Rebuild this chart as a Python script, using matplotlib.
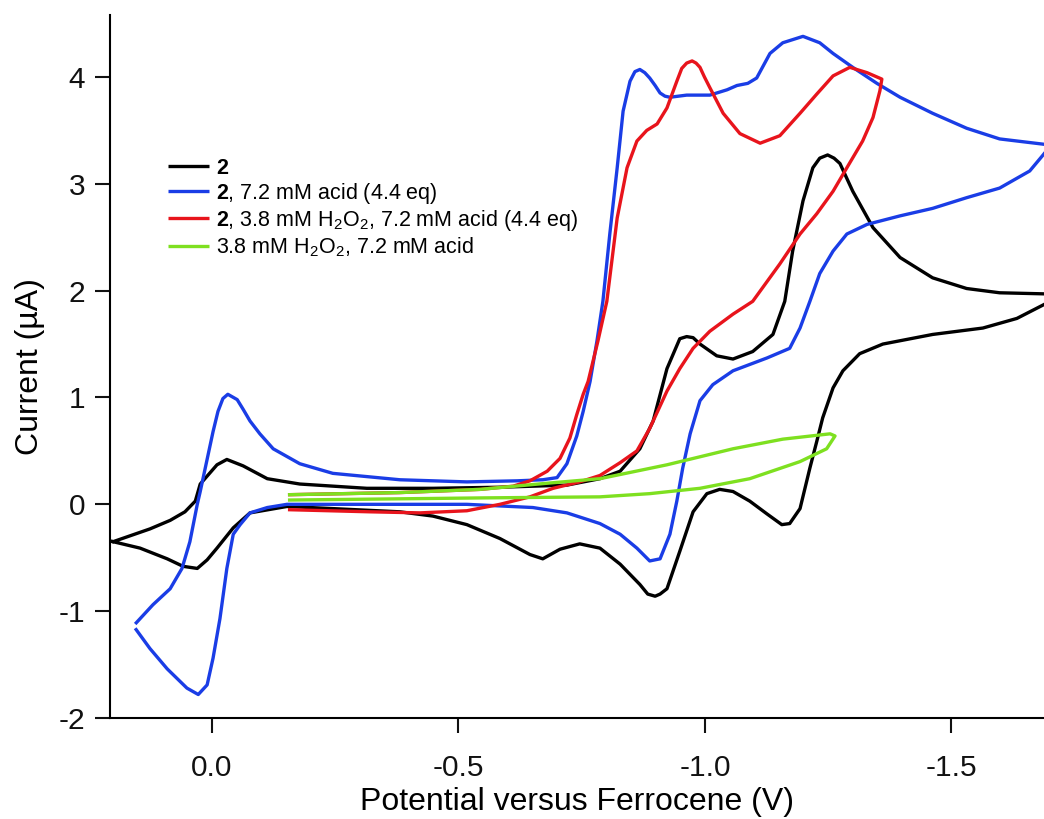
"""Cyclic voltammograms of 2 with acid and H2O2, potential vs ferrocene."""

import matplotlib
matplotlib.use("Agg")
import matplotlib.pyplot as plt

plt.rcParams["font.family"] = ["Liberation Sans", "DejaVu Sans"]
plt.rcParams["mathtext.fontset"] = "custom"
plt.rcParams["mathtext.rm"] = "Liberation Sans"
plt.rcParams["mathtext.bf"] = "Liberation Sans:bold"
plt.rcParams["axes.unicode_minus"] = False

# --- data: potential (V vs Fc) and current (uA), in scan order ---
BLACK_V = [0.205, 0.201, 0.126, 0.085, 0.055, 0.034, 0.024, -0.010, -0.030,
           -0.063, -0.112, -0.178, -0.314, -0.448, -0.584, -0.720, -0.787,
           -0.828, -0.868, -0.895, -0.923, -0.949, -0.963, -0.976, -0.990,
           -1.024, -1.057, -1.097, -1.138, -1.162, -1.178, -1.199, -1.219,
           -1.233, -1.249, -1.262, -1.274, -1.300, -1.341, -1.396, -1.462,
           -1.531, -1.598, -1.688, -1.720,
           -1.688, -1.633, -1.564, -1.462, -1.361, -1.314, -1.280, -1.260,
           -1.239, -1.227, -1.213, -1.193, -1.172, -1.156, -1.126, -1.091,
           -1.057, -1.030, -1.004, -0.976, -0.949, -0.923, -0.909, -0.899,
           -0.884, -0.868, -0.828, -0.787, -0.746, -0.706, -0.671, -0.645,
           -0.584, -0.517, -0.448, -0.381, -0.245, -0.152, -0.077, -0.043,
           -0.010, 0.010, 0.030, 0.059, 0.091, 0.146, 0.205]
BLACK_I = [-0.345, -0.35, -0.23, -0.15, -0.07, 0.03, 0.19, 0.37, 0.42,
           0.36, 0.24, 0.19, 0.15, 0.15, 0.16, 0.18, 0.24,
           0.31, 0.52, 0.78, 1.27, 1.55, 1.57, 1.56, 1.50,
           1.39, 1.36, 1.43, 1.59, 1.90, 2.37, 2.84, 3.15,
           3.24, 3.27, 3.24, 3.19, 2.93, 2.59, 2.31, 2.12,
           2.02, 1.98, 1.97, 1.95,
           1.87, 1.74, 1.65, 1.59, 1.50, 1.41, 1.25, 1.09,
           0.81, 0.59, 0.34, -0.04, -0.18, -0.19, -0.09, 0.03,
           0.12, 0.14, 0.10, -0.07, -0.44, -0.79, -0.84, -0.86,
           -0.84, -0.75, -0.56, -0.41, -0.37, -0.42, -0.51, -0.47,
           -0.32, -0.19, -0.11, -0.07, -0.04, -0.02, -0.08, -0.22,
           -0.41, -0.52, -0.60, -0.58, -0.51, -0.41, -0.345]

BLUE_V = [0.156, 0.120, 0.085, 0.061, 0.045, 0.030, 0.024, -0.002, -0.012,
          -0.022, -0.032, -0.051, -0.063, -0.077, -0.097, -0.124, -0.178,
          -0.245, -0.381, -0.517, -0.619, -0.671, -0.700, -0.720, -0.740,
          -0.753, -0.767, -0.781, -0.793, -0.807, -0.822, -0.834, -0.842,
          -0.848, -0.858, -0.868, -0.878, -0.888, -0.899, -0.909, -0.919,
          -0.929, -0.963, -1.010, -1.045, -1.065, -1.087, -1.105, -1.132,
          -1.158, -1.199, -1.233, -1.260, -1.300, -1.349, -1.396, -1.462,
          -1.531, -1.598, -1.688, -1.700,
          -1.688, -1.659, -1.598, -1.531, -1.462, -1.396, -1.329, -1.288,
          -1.260, -1.233, -1.213, -1.193, -1.172, -1.126, -1.057, -1.016,
          -0.990, -0.970, -0.955, -0.943, -0.929, -0.909, -0.888, -0.862,
          -0.828, -0.787, -0.720, -0.651, -0.517, -0.381, -0.245, -0.152,
          -0.112, -0.077, -0.057, -0.043, -0.030, -0.016, -0.002, 0.010,
          0.028, 0.051, 0.091, 0.126, 0.156]
BLUE_I = [-1.12, -0.94, -0.79, -0.60, -0.35, 0.00, 0.12, 0.68, 0.87,
          0.99, 1.03, 0.98, 0.89, 0.78, 0.66, 0.52, 0.38,
          0.29, 0.23, 0.21, 0.22, 0.23, 0.25, 0.38, 0.64,
          0.87, 1.15, 1.53, 1.90, 2.53, 3.15, 3.68, 3.84,
          3.96, 4.05, 4.07, 4.04, 3.99, 3.92, 3.85, 3.82,
          3.81, 3.83, 3.83, 3.88, 3.92, 3.94, 3.99, 4.22,
          4.32, 4.38, 4.32, 4.22, 4.09, 3.94, 3.81, 3.66,
          3.52, 3.42, 3.37, 3.36,
          3.28, 3.12, 2.96, 2.87, 2.77, 2.70, 2.62, 2.53,
          2.37, 2.16, 1.90, 1.65, 1.46, 1.37, 1.25, 1.12,
          0.97, 0.66, 0.34, 0.03, -0.28, -0.51, -0.53, -0.41,
          -0.28, -0.18, -0.08, -0.03, 0.00, 0.00, 0.00, 0.00,
          -0.03, -0.08, -0.19, -0.28, -0.60, -1.07, -1.44, -1.69,
          -1.78, -1.72, -1.54, -1.35, -1.16]

RED_V = [-0.154, -0.381, -0.544, -0.611, -0.645, -0.680, -0.706, -0.726,
         -0.740, -0.753, -0.763, -0.783, -0.801, -0.822, -0.842, -0.862,
         -0.882, -0.903, -0.923, -0.943, -0.953, -0.963, -0.974, -0.982,
         -0.990, -0.999, -1.010, -1.037, -1.071, -1.112, -1.152, -1.193,
         -1.227, -1.260, -1.294, -1.329, -1.359,
         -1.355, -1.341, -1.320, -1.288, -1.260, -1.227, -1.193, -1.152,
         -1.097, -1.057, -1.010, -0.976, -0.949, -0.923, -0.888, -0.862,
         -0.828, -0.787, -0.746, -0.692, -0.645, -0.584, -0.517, -0.422,
         -0.320, -0.154]
RED_I = [0.09, 0.11, 0.14, 0.17, 0.22, 0.31, 0.43, 0.62,
         0.84, 1.03, 1.15, 1.53, 1.90, 2.68, 3.15, 3.40,
         3.50, 3.56, 3.71, 3.96, 4.08, 4.13, 4.15, 4.13,
         4.09, 4.00, 3.90, 3.66, 3.47, 3.38, 3.45, 3.66,
         3.84, 4.01, 4.09, 4.04, 3.98,
         3.87, 3.62, 3.40, 3.15, 2.93, 2.72, 2.53, 2.25,
         1.90, 1.78, 1.62, 1.46, 1.27, 1.06, 0.71, 0.50,
         0.39, 0.27, 0.21, 0.15, 0.07, 0.00, -0.06, -0.08,
         -0.07, -0.05]

GREEN_V = [-0.154, -0.381, -0.544, -0.686, -0.787, -0.923, -1.057, -1.158,
           -1.254, -1.264,
           -1.247, -1.193, -1.091, -0.990, -0.888, -0.787, -0.544, -0.154]
GREEN_I = [0.09, 0.11, 0.14, 0.20, 0.24, 0.37, 0.52, 0.61,
           0.66, 0.64,
           0.52, 0.40, 0.24, 0.15, 0.10, 0.07, 0.06, 0.04]

LABELS = [
    r"$\mathbf{2}$",
    r"$\mathbf{2}$, 7.2 mM acid (4.4 eq)",
    r"$\mathbf{2}$, 3.8 mM H$_2$O$_2$, 7.2 mM acid (4.4 eq)",
    r"3.8 mM H$_2$O$_2$, 7.2 mM acid",
]
COLORS = ["#000000", "#1a3de6", "#e8141c", "#7ee020"]

X_TICKS = [0.0, -0.5, -1.0, -1.5]
Y_TICKS = [-2, -1, 0, 1, 2, 3, 4]


def main() -> None:
    fig = plt.figure(figsize=(10.44, 8.19), dpi=100)
    ax = fig.add_axes([0.1054, 0.1233, 0.8946, 0.8584])

    series = [(BLACK_V, BLACK_I), (BLUE_V, BLUE_I),
              (RED_V, RED_I), (GREEN_V, GREEN_I)]
    for (v, i), color, label in zip(series, COLORS, LABELS):
        ax.plot(v, i, color=color, lw=2.4, label=label,
                solid_joinstyle="round", solid_capstyle="butt")

    ax.set_xlim(0.207, -1.688)
    ax.set_ylim(-2.0, 4.58)
    ax.set_xticks(X_TICKS)
    ax.set_xticklabels([f"{t:.1f}" for t in X_TICKS])
    ax.set_yticks(Y_TICKS)
    ax.set_yticklabels([str(t) for t in Y_TICKS])

    for side in ("top", "right"):
        ax.spines[side].set_visible(False)
    for side in ("left", "bottom"):
        ax.spines[side].set_linewidth(1.5)
    ax.tick_params(direction="out", length=10.8, width=1.5,
                   labelsize=21.5, colors="#111111")
    ax.tick_params(axis="x", pad=15)
    ax.tick_params(axis="y", pad=7)

    ax.set_xlabel("Potential versus Ferrocene (V)", fontsize=23, labelpad=4)
    ax.set_ylabel("Current (µA)", fontsize=23, labelpad=10)

    ax.legend(loc="upper left", bbox_to_anchor=(0.062, 0.797),
              frameon=False, fontsize=15.5, handlelength=1.9,
              handletextpad=0.33, labelspacing=0.1, borderpad=0,
              borderaxespad=0)

    fig.savefig("out.png", dpi=100)


if __name__ == "__main__":
    main()
